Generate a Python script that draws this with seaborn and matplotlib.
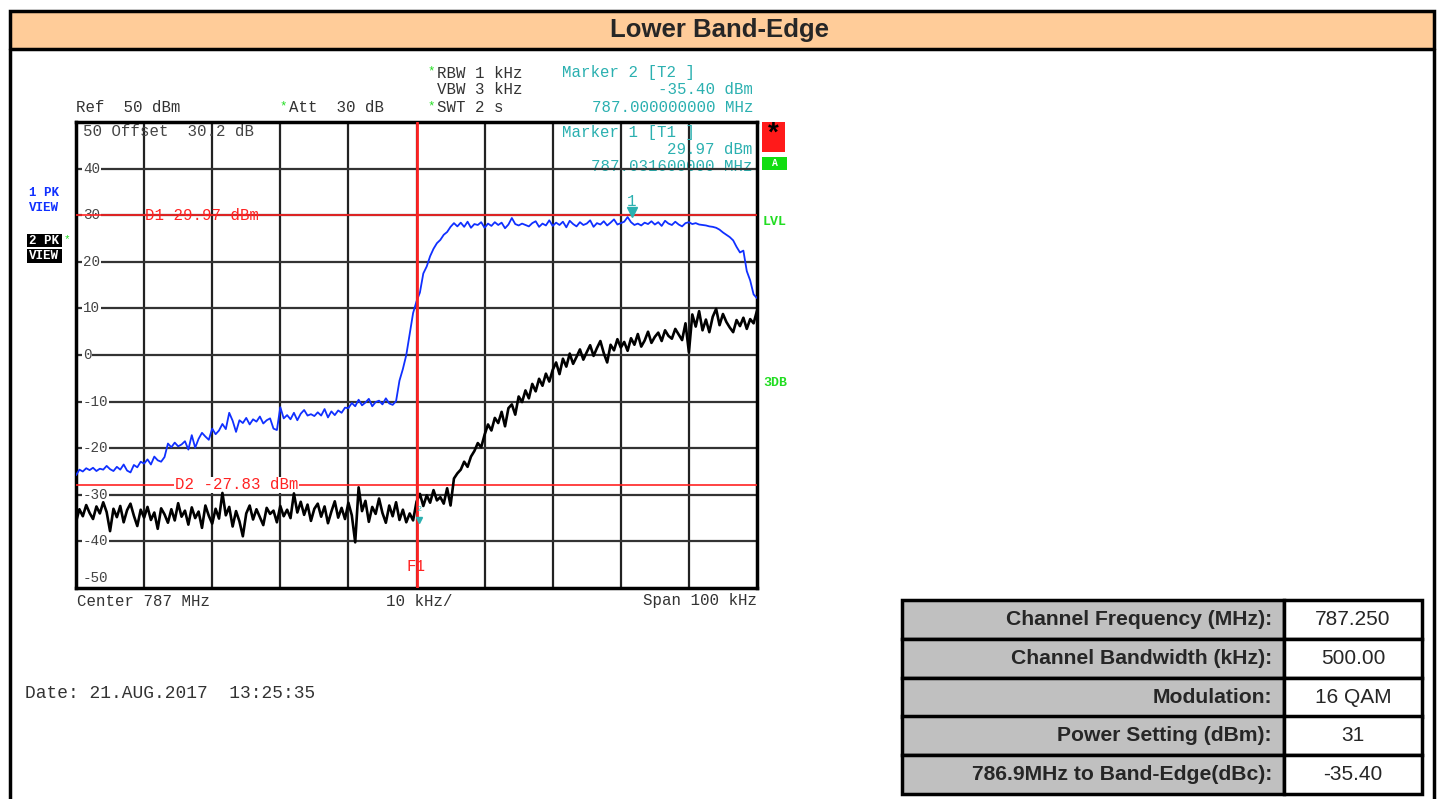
import numpy as np
import pandas as pd
import matplotlib
matplotlib.use("Agg")
import matplotlib.pyplot as plt
import seaborn as sns
from matplotlib.patches import Rectangle

W, H = 1439, 799

# ---------------- data ----------------
title = "Lower Band-Edge"
center_label = "Center 787 MHz"
div_label = "10 kHz/"
span_label = "Span 100 kHz"
y_ticks = [40, 30, 20, 10, 0, -10, -20, -30, -40]
d1_level = 29.97
d2_level = -27.83
f1_khz = 0.0
marker1_khz, marker1_dbm = 31.6, 29.97
marker2_khz, marker2_dbm = 0.0, -35.40

# trace 1 (blue, max-hold, 1 PK VIEW), one value every 0.5 kHz from -50 to +50 kHz
blue_trace = [
    -25.8, -24.6, -25.0, -24.3, -24.7, -24.2, -24.9, -24.4, -24.6, -23.8, -24.5, -24.9, -24.0, -24.6, -23.5, -24.8, -25.2, -23.6, -24.1, -22.9,
    -23.3, -22.4, -23.5, -21.8, -22.6, -22.9, -21.9, -19.0, -19.8, -18.8, -19.6, -19.2, -18.5, -20.3, -17.2, -19.9, -18.0, -16.7, -17.5, -18.2,
    -15.8, -17.0, -16.2, -14.8, -15.9, -12.4, -14.1, -16.5, -14.0, -14.6, -13.5, -14.9, -13.8, -14.3, -13.2, -14.7, -14.0, -13.6, -15.8, -16.1,
    -11.2, -13.6, -12.9, -13.8, -12.4, -14.0, -12.6, -11.8, -13.0, -12.7, -13.1, -12.3, -13.0, -11.6, -13.4, -12.1, -12.9, -11.9, -12.4, -11.3,
    -11.4, -10.3, -11.0, -9.6, -10.8, -10.2, -9.4, -11.0, -10.1, -9.8, -10.6, -9.3, -10.4, -10.7, -9.9, -5.5, -3.0, 0.0, 4.5, 9.0,
    11.5, 13.4, 17.5, 19.0, 21.2, 22.8, 24.0, 24.7, 25.8, 26.4, 27.5, 28.3, 27.6, 28.4, 27.5, 28.6, 27.3, 28.1, 27.9, 28.5,
    27.3, 28.2, 27.7, 28.5, 27.9, 28.4, 27.2, 28.0, 29.4, 28.1, 27.8, 28.2, 27.9, 27.6, 28.3, 28.7, 27.5, 28.2, 27.8, 28.9,
    27.7, 28.4, 27.9, 28.6, 27.4, 28.8, 28.1, 27.6, 28.5, 27.9, 28.2, 28.9, 27.5, 28.3, 28.0, 28.7, 27.8, 28.4, 29.1, 28.0,
    28.3, 28.6, 29.6, 28.5, 27.9, 28.2, 27.8, 28.4, 28.1, 28.7, 28.0, 28.5, 27.7, 28.8, 28.2, 27.9, 28.6, 28.0, 27.6, 28.3,
    28.5, 28.1, 28.3, 28.0, 27.9, 27.8, 27.6, 27.5, 27.3, 26.9, 26.3, 25.8, 25.3, 24.6, 23.2, 22.0, 22.4, 18.0, 16.0, 13.0,
    12.2,
]

# trace 2 (black, 2 PK VIEW)
black_trace = [
    -35.8, -33.1, -34.6, -32.2, -33.9, -35.2, -32.5, -34.0, -31.6, -33.7, -37.8, -33.0, -34.8, -32.4, -35.9, -33.3, -31.9, -34.5, -36.7, -33.2,
    -34.9, -32.6, -35.4, -33.8, -37.3, -32.9, -34.2, -36.0, -33.1, -35.5, -31.8, -34.7, -33.4, -36.4, -32.7, -35.0, -33.6, -37.1, -32.3, -34.5,
    -36.2, -33.0, -35.1, -29.6, -34.4, -32.6, -36.8, -33.5, -35.7, -38.9, -34.0, -32.3, -35.3, -33.1, -34.8, -36.5, -32.8, -34.1, -33.4, -35.9,
    -32.4, -34.6, -33.2, -35.0, -29.7, -33.8, -31.5, -34.3, -32.1, -35.6, -33.0, -31.9, -34.7, -32.5, -36.1, -33.6, -31.4, -34.9, -32.8, -35.2,
    -31.7, -34.4, -40.2, -28.4, -33.5, -31.3, -35.8, -32.6, -34.1, -30.8, -33.9, -36.0, -32.3, -34.6, -31.6, -35.4, -33.2, -35.9, -34.0, -35.5,
    -31.5, -29.8, -32.4, -30.1, -31.7, -29.0, -31.2, -30.5, -31.9, -28.6, -32.3, -26.5, -25.4, -24.6, -22.9, -24.0, -21.8, -20.6, -18.9, -19.8,
    -17.1, -14.9, -16.2, -13.5, -14.6, -12.2, -15.3, -11.4, -10.6, -12.8, -8.9, -10.1, -7.6, -9.3, -6.2, -7.8, -5.1, -6.6, -4.0, -5.7,
    -3.2, -1.6, -4.1, -0.8, -2.5, 0.3, -1.9, -0.4, 1.2, -1.0, 0.6, 2.1, -0.2, 1.5, 3.0, 0.4, -1.6, 2.2, 1.0, 3.4,
    1.6, 2.8, 0.9, 3.6, 2.2, 4.5, 1.8, 3.1, 5.0, 2.6, 3.9, 4.8, 3.0, 5.3, 4.1, 3.5, 5.6, 4.4, 3.2, 6.8,
    0.6, 8.7, 6.1, 9.4, 5.3, 7.6, 4.9, 8.2, 9.9, 6.4, 8.8, 7.1, 5.9, 4.9, 7.5, 6.2, 8.0, 5.6, 7.7, 6.8,
    9.5,
]

table_labels = ["Channel Frequency (MHz):", "Channel Bandwidth (kHz):", "Modulation:",
                "Power Setting (dBm):", "786.9MHz to Band-Edge(dBc):"]
table_values = ["787.250", "500.00", "16 QAM", "31", "-35.40"]

# sweep grid (kHz offset from centre)
freq_khz = np.linspace(-50, 50, len(blue_trace))

# ---------------- style ----------------
sns.set_theme(style="white")
plt.rcParams["font.family"] = ["Liberation Sans", "DejaVu Sans"]
MONO = ["Liberation Mono", "DejaVu Sans Mono"]
TEAL = "#2BB0B0"
RED = "#FF2222"
GREEN = "#22DD22"
FS = 11.3      # instrument annotation font size
GRAY = "#333333"

fig = plt.figure(figsize=(W / 100, H / 100), dpi=100)
fig.patch.set_facecolor("white")


def fx(x):
    return x / W


def fy(y):
    return 1 - y / H


def ftext(x, y, s, **kw):
    kw.setdefault("va", "center")
    fig.text(fx(x), fy(y), s, **kw)


def frect(x0, y0, x1, y1, fc="none", ec="none", lw=0, z=0):
    fig.add_artist(Rectangle((fx(x0), fy(y1)), fx(x1) - fx(x0), fy(y0) - fy(y1),
                             transform=fig.transFigure, facecolor=fc, edgecolor=ec,
                             linewidth=lw, zorder=z))


# outer frame + title band
frect(10, 11, 1434, 49, fc="#FFCC99", ec="none")
frect(10, 11, 1434, 805, fc="none", ec="black", lw=2.5, z=5)
fig.add_artist(plt.Line2D([fx(10), fx(1434)], [fy(49), fy(49)], transform=fig.transFigure,
                          color="black", lw=2.5, zorder=5))
ftext(720, 30, title, ha="center", fontsize=18.5, fontweight="bold")

# ---------------- spectrum axes ----------------
ax = fig.add_axes([fx(76), fy(588), fx(757) - fx(76), fy(122) - fy(588)])
ax.set_xlim(-50, 50)
ax.set_ylim(-50, 50)
ax.set_xticks([])
ax.set_yticks([])
for s in ax.spines.values():
    s.set_color("black")
    s.set_linewidth(2.5)

for v in range(-40, 50, 10):
    ax.axvline(v, color="#222222", lw=1.6, zorder=1)
for v in range(-40, 50, 10):
    ax.axhline(v, color="#333333", lw=1.6, zorder=1)

for v in y_ticks:
    ax.text(-49.0, v, str(v), ha="left", va="center", fontsize=10.3, family=MONO,
            color="#444444", zorder=2,
            bbox=dict(facecolor="white", edgecolor="none", pad=0.5))
ax.text(-49.0, -47.9, "-50", ha="left", va="center", fontsize=10.3, family=MONO,
        color="#444444", zorder=2)
ax.text(-49.0, 48.0, "50 Offset  30.2 dB", ha="left", va="center", fontsize=FS,
        family=MONO, color="#444444", zorder=2)

# display lines
ax.axhline(d1_level, color=RED, lw=1.2, zorder=3)
ax.text(-39.8, d1_level, "D1 29.97 dBm", ha="left", va="center", fontsize=FS,
        family=MONO, color=RED, zorder=3)
ax.axhline(d2_level, color=RED, lw=1.2, zorder=3)
ax.text(-35.5, d2_level, "D2 -27.83 dBm", ha="left", va="center", fontsize=FS,
        family=MONO, color=RED, zorder=4,
        bbox=dict(facecolor="white", edgecolor="none", pad=0.3))
ax.axvline(f1_khz, color=RED, lw=2.0, zorder=6)
ax.text(f1_khz, -45.3, "F1", ha="center", va="center", fontsize=FS, family=MONO,
        color=RED, zorder=6)

# traces
df = pd.DataFrame({"freq": np.concatenate([freq_khz, freq_khz]),
                   "level": blue_trace + black_trace,
                   "trace": ["1 PK"] * len(blue_trace) + ["2 PK"] * len(black_trace)})
sns.lineplot(data=df[df.trace == "2 PK"], x="freq", y="level", ax=ax, color="black",
             lw=1.9, estimator=None, sort=False, zorder=4, legend=False)
sns.lineplot(data=df[df.trace == "1 PK"], x="freq", y="level", ax=ax, color="#1030FF",
             lw=1.3, estimator=None, sort=False, zorder=5, legend=False)
ax.set_xlabel("")
ax.set_ylabel("")
ax.set_xlim(-50, 50)
ax.set_ylim(-50, 50)

# markers
ax.plot([marker1_khz], [marker1_dbm + 0.8], marker="v", color=TEAL, ms=7, zorder=7, ls="none")
ax.text(marker1_khz, marker1_dbm + 3.0, "1", ha="center", va="center", fontsize=FS,
        family=MONO, color=TEAL, zorder=7)
ax.plot([marker2_khz + 0.3], [marker2_dbm], marker="v", color=TEAL, ms=5, zorder=7, ls="none")
ax.text(marker2_khz + 0.3, marker2_dbm + 2.2, "2", ha="center", va="center", fontsize=6,
        family=MONO, color=TEAL, zorder=7)

# marker 1 readout inside the plot
ax.text(0.713, 0.978, "Marker 1 [T1 ]", transform=ax.transAxes, ha="left", va="center",
        fontsize=FS, family=MONO, color=TEAL, zorder=3)
ax.text(0.994, 0.942, "29.97 dBm", transform=ax.transAxes, ha="right", va="center",
        fontsize=FS, family=MONO, color=TEAL, zorder=3)
ax.text(0.994, 0.905, "787.031600000 MHz", transform=ax.transAxes, ha="right", va="center",
        fontsize=FS, family=MONO, color=TEAL, zorder=0.5)

# ---------------- header texts ----------------
ftext(76, 108, "Ref  50 dBm", fontsize=FS, family=MONO, color=GRAY)
ftext(283, 106, "*", fontsize=9, family=MONO, color=GREEN, ha="center")
ftext(289, 108, "Att  30 dB", fontsize=FS, family=MONO, color=GRAY)
ftext(431, 71, "*", fontsize=9, family=MONO, color=GREEN, ha="center")
ftext(437, 73, "RBW 1 kHz", fontsize=FS, family=MONO, color=GRAY)
ftext(437, 90, "VBW 3 kHz", fontsize=FS, family=MONO, color=GRAY)
ftext(431, 106, "*", fontsize=9, family=MONO, color=GREEN, ha="center")
ftext(437, 108, "SWT 2 s", fontsize=FS, family=MONO, color=GRAY)
ftext(562, 73, "Marker 2 [T2 ]", fontsize=FS, family=MONO, color=TEAL)
ftext(753, 90, "-35.40 dBm", fontsize=FS, family=MONO, color=TEAL, ha="right")
ftext(753, 108, "787.000000000 MHz", fontsize=FS, family=MONO, color=TEAL, ha="right")

# left trace labels
ftext(29, 193, "1 PK", fontsize=9, family=MONO, color="#1030FF", fontweight="bold")
ftext(29, 208, "VIEW", fontsize=9, family=MONO, color="#1030FF", fontweight="bold")
frect(27, 234, 62, 247, fc="black")
frect(27, 249, 62, 263, fc="black")
ftext(29, 241, "2 PK", fontsize=9, family=MONO, color="white", fontweight="bold")
ftext(29, 256, "VIEW", fontsize=9, family=MONO, color="white", fontweight="bold")
ftext(67, 239, "*", fontsize=8, family=MONO, color=GREEN, ha="center")

# right-side indicators
frect(762, 122, 785, 152, fc="#FF1A1A")
ftext(773.5, 134, "*", fontsize=20, color="black", ha="center", fontweight="bold")
frect(762, 157, 787, 170, fc="#11DD11")
ftext(774.5, 163.5, "A", fontsize=7, family=MONO, color="white", ha="center", fontweight="bold")
ftext(763, 222, "LVL", fontsize=9.5, family=MONO, color=GREEN, fontweight="bold")
ftext(763, 383, "3DB", fontsize=9.5, family=MONO, color=GREEN, fontweight="bold")

# bottom axis texts
ftext(77, 601, center_label, fontsize=FS, family=MONO, color=GRAY)
ftext(386, 601, div_label, fontsize=FS, family=MONO, color=GRAY)
ftext(757, 601, span_label, fontsize=FS, family=MONO, color=GRAY, ha="right")
ftext(25, 693, "Date: 21.AUG.2017  13:25:35", fontsize=12.9, family=MONO, color=GRAY)

# ---------------- info table ----------------
row_tops = [600, 639, 678, 716, 755]
row_h = 38.5
x_l0, x_l1, x_v1 = 902, 1284, 1422
for i, (lab, val) in enumerate(zip(table_labels, table_values)):
    y0 = row_tops[i]
    y1 = y0 + row_h
    frect(x_l0, y0, x_l1, y1, fc="#C0C0C0", ec="black", lw=2.5, z=2)
    frect(x_l1, y0, x_v1, y1, fc="white", ec="black", lw=2.5, z=2)
    ftext(x_l1 - 12, (y0 + y1) / 2, lab, fontsize=15.2, fontweight="bold", ha="right", zorder=3)
    ftext((x_l1 + x_v1) / 2, (y0 + y1) / 2, val, fontsize=15, ha="center", zorder=3)

fig.savefig("out.png", dpi=100)
